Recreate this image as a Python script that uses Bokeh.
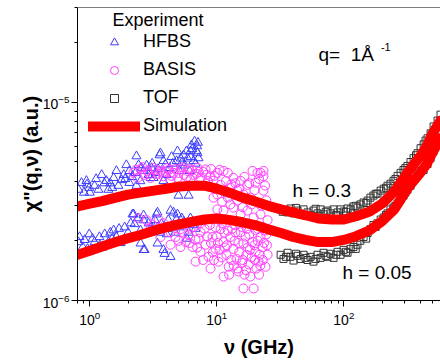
import numpy as np
from bokeh.plotting import figure
from bokeh.models import Legend, LegendItem, Label, Span, FixedTicker, LogTickFormatter
from bokeh.embed import file_html
from bokeh.resources import INLINE

FONT = "Liberation Sans"
U = 1e-6  # values below are given in units of 1e-6 (a.u.)

# ---- axis ticks ----
x_major = [1, 10, 100]
x_minor = [0.8, 0.9, 2, 3, 4, 5, 6, 7, 8, 9, 20, 30, 40, 50, 60, 70, 80, 90, 200, 300, 400, 500]
y_major = [1e-6, 1e-5]
y_minor = [2e-6, 3e-6, 4e-6, 5e-6, 6e-6, 7e-6, 8e-6, 9e-6, 2e-5, 3e-5]

# ---- HFBS (triangles), h = 0.3 band and h = 0.05 band ----
hfbs_hi_x = [0.815, 0.86, 0.9, 0.94, 0.99, 1.0, 1.09, 1.17, 1.24, 1.3, 1.35, 1.40, 1.5, 1.54, 1.62,
             1.68, 1.78, 1.9, 1.94, 2.05, 2.05, 2.29, 2.33, 2.33, 2.42, 2.5, 2.65, 2.8, 2.90, 3.01,
             3.06, 3.18, 3.3, 3.54, 3.60, 3.80, 3.80, 4.02, 4.24, 4.5, 4.82, 4.90, 4.99, 5.08, 5.2,
             5.47, 5.6, 5.77, 6.0, 6.10, 6.2, 6.21, 6.32, 6.55, 6.68, 6.8, 6.92, 7.0, 7.05, 7.18,
             0.95, 1.12, 1.45, 1.85, 2.15, 2.55, 3.1, 3.45, 3.95, 4.4, 5.3, 5.9, 6.4, 7.1]
hfbs_hi_y = [3.62, 3.92, 3.5, 4.01, 3.70, 3.5, 3.79, 3.62, 4.30, 3.9, 4.01, 3.62, 3.7, 4.15, 4.50,
             3.79, 4.05, 4.1, 4.82, 4.50, 3.92, 4.40, 5.34, 3.79, 4.82, 4.0, 4.50, 4.8, 4.30, 4.15,
             4.66, 4.15, 4.4, 5.40, 5.53, 5.05, 4.01, 4.30, 4.66, 4.9, 5.05, 5.66, 3.38, 4.50, 5.2,
             5.40, 4.8, 5.66, 3.38, 4.50, 5.3, 5.66, 6.06, 5.05, 6.34, 4.9, 5.66, 6.0, 5.53, 5.22,
             3.85, 4.10, 3.90, 4.30, 4.20, 4.65, 4.90, 4.60, 4.85, 5.30, 4.95, 5.20, 5.80, 6.25]
hfbs_lo_x = [0.815, 0.83, 0.88, 0.91, 0.96, 0.99, 1.09, 1.19, 1.2, 1.31, 1.40, 1.5, 1.54, 1.62, 1.75,
             1.88, 2.0, 2.17, 2.21, 2.25, 2.51, 2.51, 2.65, 2.65, 2.65, 2.70, 3.06, 3.18, 3.35, 3.41,
             3.41, 3.67, 3.80, 3.88, 4.02, 4.09, 4.24, 4.32, 4.32, 4.56, 4.82, 4.90, 5.08, 5.5, 5.8,
             6.0, 6.5,
             1.05, 1.25, 1.45, 1.7, 2.1, 2.4, 2.9, 3.25, 3.6, 4.15, 4.7, 5.3, 6.2, 6.8]
hfbs_lo_y = [1.97, 2.09, 1.86, 2.02, 1.82, 2.16, 1.97, 2.09, 1.9, 2.16, 1.97, 2.05, 2.26, 2.09, 1.95,
             2.34, 2.2, 2.72, 2.72, 2.43, 2.26, 1.94, 2.54, 2.69, 1.80, 1.80, 2.34, 2.34, 2.72, 2.78,
             1.94, 2.43, 1.80, 1.72, 2.16, 2.30, 2.34, 2.84, 1.66, 2.78, 2.56, 2.72, 2.34, 2.5, 2.05,
             2.2, 2.4,
             2.05, 1.85, 2.20, 2.30, 2.45, 2.60, 2.45, 2.55, 2.20, 2.55, 2.20, 2.60, 2.60, 2.30]

# ---- BASIS (circles) ----
basis_hi_x = [2.21, 2.38, 2.51, 2.85, 3.01, 3.18, 3.60, 3.80, 4.09, 4.32, 4.56, 4.90, 5.18, 5.88, 6.21,
              6.55, 7.05, 7.44, 8.15, 8.92, 9.42, 9.42, 10.1, 10.1, 10.1, 10.7, 11.3, 11.3, 12.2, 12.2,
              12.8, 12.8, 13.5, 13.5, 14.5, 14.5, 15.4, 15.4, 16.2, 17.4, 17.4, 18.4, 19.1, 19.5, 20.2,
              20.9, 20.9, 22.1, 22.1, 23.3, 23.3, 23.3, 25.1,
              2.7, 3.4, 4.0, 4.7, 5.5, 6.0, 6.9, 7.8, 8.5, 9.0,
              2.3, 2.6, 2.95, 3.3, 3.7, 4.2, 4.4, 5.0, 5.3, 5.8, 6.4, 7.2, 8.3, 9.6, 10.5,
              11.8, 13.0, 15.0, 16.5, 18.0, 19.8, 21.5, 24.0, 24.5, 18.8, 16.0, 12.0, 11.0, 14.0, 22.5]
basis_hi_y = [4.40, 4.15, 4.58, 4.50, 4.15, 4.66, 4.50, 4.23, 4.66, 4.01, 4.40, 4.15, 4.58, 4.50, 4.08,
              4.30, 4.66, 4.15, 4.58, 4.23, 4.01, 3.30, 4.40, 2.88, 3.42, 3.83, 2.84, 4.50, 4.40, 3.30,
              3.70, 3.05, 4.15, 2.94, 3.58, 3.19, 4.01, 2.72, 3.42, 3.83, 2.84, 3.30, 4.50, 2.62, 3.92,
              4.40, 3.12, 2.72, 4.40, 4.50, 3.58, 4.23, 2.54,
              4.30, 4.35, 4.45, 4.60, 4.30, 4.62, 4.35, 4.45, 4.00, 4.60,
              4.55, 4.70, 4.35, 4.55, 4.40, 4.55, 4.25, 4.40, 4.70, 4.20, 4.55, 4.45, 4.30, 4.25, 4.55,
              4.00, 3.85, 3.65, 4.20, 3.90, 3.60, 4.10, 3.80, 3.20, 3.05, 2.95, 3.50, 3.15, 3.90, 3.00]
basis_lo_x = [2.42, 2.80, 3.12, 3.48, 3.60, 3.95, 4.32, 4.32, 4.73, 5.18, 5.18, 5.67, 5.67, 5.99, 6.44,
              6.80, 6.80, 7.44, 7.44, 7.44, 8.15, 8.60, 8.92, 9.25, 9.77, 9.77, 10.3, 10.7, 11.3, 11.3,
              11.9, 12.4, 12.8, 13.5, 14.0, 14.3, 14.8, 15.4, 16.2, 16.2, 17.1, 17.8, 18.4, 19.1, 19.5,
              20.2, 20.2, 21.3, 22.1, 22.9, 22.9, 24.2, 25.1,
              8.0, 9.0, 10.0, 10.5, 11.5, 12.0, 13.0, 13.8, 15.0, 15.8, 16.8, 17.5, 18.8, 19.8, 21.0,
              21.8, 23.5, 24.5, 6.2, 7.0, 8.4, 11.0, 14.0, 18.0, 20.5, 23.0, 12.5, 16.5, 9.5, 14.5,
              3.0, 3.8, 4.5, 5.0, 5.5, 6.1, 6.6, 7.2, 7.8, 8.8, 9.3, 10.2, 10.9, 11.6, 12.2,
              13.2, 13.6, 14.8, 15.6, 16.0, 17.2, 18.2, 19.2, 20.0, 21.0, 22.0, 23.8, 24.8, 17.0, 21.5]
basis_lo_y = [2.60, 2.54, 2.40, 2.56, 2.09, 2.34, 2.21, 1.91, 2.09, 2.29, 1.86, 1.97, 2.46, 2.14, 1.86,
              2.02, 1.57, 1.76, 2.21, 2.46, 1.91, 1.66, 1.45, 2.09, 1.82, 2.34, 1.57, 2.29, 1.97, 1.32,
              1.70, 1.48, 2.09, 1.82, 2.40, 1.62, 1.40, 2.21, 1.94, 1.15, 1.70, 1.52, 1.32, 1.97, 1.15,
              1.76, 2.26, 1.57, 2.09, 1.86, 2.34, 1.48, 1.70,
              2.30, 1.95, 2.10, 1.80, 2.20, 1.90, 1.60, 2.00, 1.75, 1.55, 2.10, 1.85, 1.65, 1.90, 2.00,
              1.70, 1.95, 2.15, 2.30, 1.85, 2.10, 2.45, 2.20, 2.15, 1.45, 1.60, 1.35, 1.35, 1.60, 1.45,
              2.30, 2.45, 2.40, 2.00, 2.20, 1.95, 2.35, 2.05, 1.60, 2.40, 1.75, 1.95, 1.65, 1.85, 2.25,
              2.30, 1.50, 1.95, 2.35, 1.60, 2.30, 1.80, 2.40, 1.60, 2.30, 1.50, 2.25, 1.90, 1.42, 1.35]

# ---- TOF (squares) ----
tof_hi_x = [34.8, 36.1, 38.0, 40.2, 43.2, 45.6, 48.2, 51.8, 54.7, 57.7, 62.1, 65.6, 69.2, 74.5, 78.5,
            83.0, 89.3, 94.2, 99.5, 107, 113, 119, 128, 135, 143, 154, 162, 171, 184, 195, 206, 221,
            233, 246, 265, 280, 295, 317, 335, 354, 381, 402, 425, 456, 482, 509, 547, 577,
            33.0, 42, 50, 60, 72, 87, 104, 124, 150, 178, 215, 255, 305, 370, 440]
tof_hi_y = [2.84, 2.78, 2.91, 2.75, 2.84, 2.72, 2.88, 2.78, 2.69, 2.84, 2.75, 2.88, 2.72, 2.84, 2.75,
            2.88, 2.78, 2.88, 2.81, 2.91, 2.88, 2.98, 2.94, 3.05, 3.12, 3.19, 3.30, 3.38, 3.46, 3.58,
            3.66, 3.79, 3.88, 4.01, 4.25, 4.40, 4.55, 4.77, 4.99, 5.22, 5.53, 5.86, 6.13, 6.57, 6.96,
            7.54, 8.07, 8.65,
            2.80, 2.93, 2.70, 2.90, 2.80, 2.70, 2.80, 3.00, 3.10, 3.45, 3.70, 4.10, 4.65, 5.40, 6.40]
tof_lo_x = [31.8, 33.5, 36.1, 38.0, 40.2, 43.2, 45.6, 48.2, 51.8, 54.7, 57.7, 62.1, 65.6, 69.2, 74.5,
            78.5, 83.0, 89.3, 94.2, 99.5, 107, 113, 119, 128, 135, 143, 154, 162, 171, 184, 195, 206,
            221, 233, 246, 265, 280, 295, 317, 335, 354, 381, 402, 425, 456, 482, 509, 547, 577,
            35, 42, 50, 60, 72, 87, 104, 124, 150, 178, 215, 255, 305]
tof_lo_y = [1.70, 1.62, 1.74, 1.66, 1.59, 1.68, 1.62, 1.70, 1.60, 1.66, 1.57, 1.70, 1.64, 1.74, 1.66,
            1.72, 1.64, 1.76, 1.70, 1.80, 1.74, 1.82, 1.86, 1.91, 2.00, 2.09, 2.19, 2.29, 2.40, 2.45,
            2.56, 2.62, 2.75, 2.88, 2.94, 3.08, 3.23, 3.38, 3.62, 3.79, 4.08, 4.35, 4.50, 4.55, 4.88,
            5.22, 5.65, 6.13, 6.64,
            1.66, 1.72, 1.64, 1.62, 1.68, 1.70, 1.76, 1.82, 2.05, 2.35, 2.70, 3.00, 3.50]

# ---- Simulation curves ----
sim_x = [0.80, 1.0, 1.25, 1.6, 2.0, 2.5, 3.2, 4.0, 5.0, 6.3, 8.0, 10, 12.5, 16, 20, 25, 32, 40, 50,
         63, 80, 100, 125, 160, 200, 250, 320, 400, 450, 500, 577]
sim_h03 = [2.98, 3.08, 3.17, 3.30, 3.42, 3.50, 3.58, 3.66, 3.75, 3.79, 3.79, 3.66, 3.50, 3.30, 3.16,
           3.01, 2.88, 2.78, 2.69, 2.59, 2.56, 2.56, 2.66, 2.81, 3.08, 3.54, 4.45, 5.34, 5.99, 6.96, 8.07]
sim_h005 = [1.70, 1.78, 1.87, 1.97, 2.06, 2.14, 2.25, 2.34, 2.42, 2.49, 2.56, 2.59, 2.55, 2.48, 2.40,
            2.29, 2.19, 2.09, 2.02, 1.97, 1.97, 2.02, 2.11, 2.26, 2.51, 2.88, 3.70, 4.40, 4.87, 5.59, 6.57]

def s(v):
    return np.array(v) * U

p = figure(width=440, height=360, x_axis_type="log", y_axis_type="log",
           x_range=(0.8, 577), y_range=(1e-6, 3.0e-5),
           output_backend="svg", toolbar_location=None,
           min_border_left=77, min_border_right=0, min_border_top=7, min_border_bottom=56)
p.outline_line_color = None
p.grid.visible = False
p.background_fill_color = "white"
p.border_fill_color = "white"

BLUE = "#3d3dff"
MAG = "#ff40ff"
GRAY = "#333333"

r_h1 = p.scatter(hfbs_hi_x, s(hfbs_hi_y), marker="triangle", size=9, fill_color=None,
                 line_color=BLUE, line_width=1)
p.scatter(hfbs_lo_x, s(hfbs_lo_y), marker="triangle", size=9, fill_color=None,
          line_color=BLUE, line_width=1)
r_b1 = p.scatter(basis_hi_x, s(basis_hi_y), marker="circle", size=9, fill_color=None,
                 line_color=MAG, line_width=1)
p.scatter(basis_lo_x, s(basis_lo_y), marker="circle", size=9, fill_color=None,
          line_color=MAG, line_width=1)
r_t1 = p.scatter(tof_hi_x, s(tof_hi_y), marker="square", size=7, fill_color=None,
                 line_color=GRAY, line_width=1)
p.scatter(tof_lo_x, s(tof_lo_y), marker="square", size=7, fill_color=None,
          line_color=GRAY, line_width=1)
r_s1 = p.line(sim_x, s(sim_h03), line_color="red", line_width=10, line_cap="round", line_join="round")
p.line(sim_x, s(sim_h005), line_color="red", line_width=10, line_cap="round", line_join="round")

p.xaxis.ticker = FixedTicker(ticks=x_major, minor_ticks=x_minor)
p.yaxis.ticker = FixedTicker(ticks=y_major, minor_ticks=y_minor)
p.xaxis.formatter = LogTickFormatter()
p.yaxis.formatter = LogTickFormatter()

# axes
for ax in (p.xaxis[0], p.yaxis[0]):
    ax.axis_line_color = "black"
    ax.major_tick_line_color = "black"
    ax.minor_tick_line_color = "black"
    ax.major_tick_in = 0
    ax.major_tick_out = 6
    ax.minor_tick_in = 0
    ax.minor_tick_out = 3
    ax.major_label_text_font = FONT
    ax.major_label_text_font_size = "14px"
    ax.major_label_text_color = "black"
    ax.axis_label_text_font = FONT
    ax.axis_label_text_font_size = "20px"
    ax.axis_label_text_font_style = "bold"
    ax.axis_label_text_color = "black"
    ax.major_label_standoff = 2
p.xaxis.major_label_standoff = 4
p.xaxis.axis_label_standoff = 8
p.yaxis.axis_label_standoff = -2

p.xaxis.axis_label = "ν (GHz)"
p.yaxis.axis_label = "χ\"(q,ν) (a.u.)"

p.add_layout(Span(location=3.0e-5, dimension="width", line_color="black", line_width=1))

legend = Legend(items=[LegendItem(label="HFBS", renderers=[r_h1]),
                       LegendItem(label="BASIS", renderers=[r_b1]),
                       LegendItem(label="TOF", renderers=[r_t1]),
                       LegendItem(label="Simulation", renderers=[r_s1])],
                location=(11, 164), border_line_color=None, background_fill_alpha=0,
                glyph_width=52, glyph_height=20, label_height=20, label_standoff=3,
                spacing=7, padding=0, margin=0,
                label_text_font=FONT, label_text_font_size="18px", label_text_color="black")
p.add_layout(legend)

def lab(x, y, t, size="18px"):
    p.add_layout(Label(x=x, y=y, text=t, text_font=FONT, text_font_size=size,
                       text_baseline="middle", text_align="left", text_color="black"))

lab(1.51, 2.60e-5, "Experiment")
lab(63.2, 1.74e-5, "q=\u00a0\u00a01Å", "19px")
lab(196, 1.905e-5, "-1", "11px")
lab(39.4, 3.58e-6, "h = 0.3", "19px")
lab(97.6, 1.38e-6, "h = 0.05", "19px")

open("out.html", "w").write(file_html(p, INLINE))
